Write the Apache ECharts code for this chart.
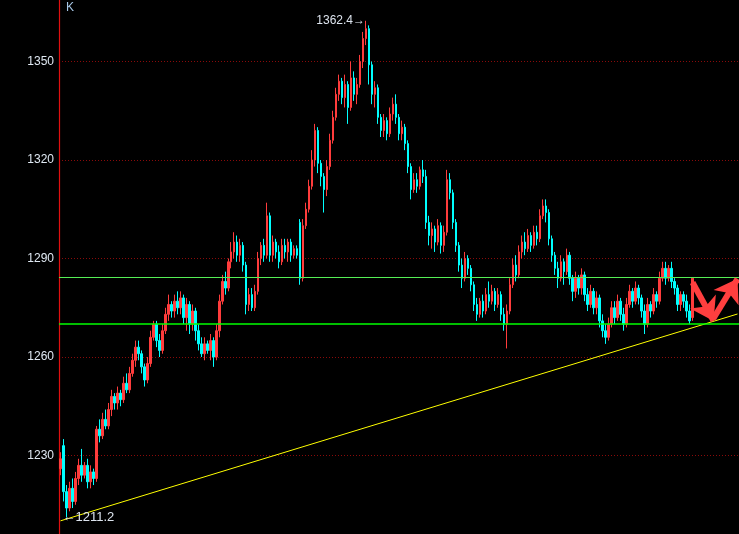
<!DOCTYPE html>
<html><head><meta charset="utf-8">
<script src="https://cdn.jsdelivr.net/npm/echarts@6/dist/echarts.min.js"></script>
<style>html,body{margin:0;padding:0;background:#000;overflow:hidden;width:739px;height:534px;}#c{position:absolute;left:0;top:-37px;width:739px;height:591px;}</style>
</head><body><div id="c"></div>
<script>
// [open, close, low, high]
const candles = [
[1226,1229,1224,1231],[1233,1219,1216,1235],[1219,1214,1211.2,1221],[1214,1220,1213,1222],[1220,1216,1214,1223],
[1216,1223,1215,1225],[1223,1227,1221,1229],[1227,1224,1222,1232],[1224,1227,1223,1228],[1227,1222,1220,1229],
[1222,1225,1220,1227],[1225,1223,1221,1226],[1223,1238,1222,1239],[1238,1236,1234,1241],[1236,1241,1235,1243],
[1241,1239,1238,1244],[1239,1244,1238,1246],[1244,1248,1242,1250],[1248,1246,1244,1249],[1246,1249,1244,1251],
[1249,1247,1245,1250],[1247,1252,1246,1254],[1252,1250,1249,1255],[1250,1255,1249,1257],[1255,1259,1254,1261],
[1259,1263,1257,1265],[1263,1261,1259,1265],[1261,1257,1255,1262],[1257,1253,1251,1258],[1253,1258,1252,1260],
[1258,1266,1257,1268],[1266,1270,1265,1271],[1270,1265,1263,1271],[1265,1262,1260,1267],[1262,1268,1261,1270],
[1268,1273,1267,1275],[1273,1276,1271,1279],[1276,1274,1272,1277],[1274,1277,1272,1279],[1277,1275,1273,1280],
[1275,1278,1273,1280],[1278,1272,1270,1279],[1272,1276,1268,1278],[1276,1270,1267,1277],[1270,1274,1268,1276],
[1274,1268,1265,1275],[1268,1264,1262,1270],[1264,1261,1260,1266],[1261,1264,1259,1266],[1264,1262,1261,1265],
[1262,1265,1259,1267],[1265,1260,1257,1266],[1260,1268,1259,1270],[1268,1277,1266,1279],[1277,1283,1276,1285],
[1283,1281,1279,1286],[1281,1289,1280,1290],[1289,1292,1287,1295],[1292,1295,1290,1298],[1295,1291,1289,1297],
[1291,1294,1289,1296],[1294,1288,1286,1295],[1288,1276,1273,1289],[1276,1279,1274,1281],[1279,1275,1274,1281],
[1275,1280,1274,1282],[1280,1290,1279,1292],[1290,1294,1288,1295],[1294,1291,1289,1296],[1291,1303,1290,1307],
[1303,1291,1289,1304],[1291,1295,1289,1297],[1295,1292,1290,1296],[1292,1289,1287,1294],[1289,1294,1288,1296],
[1294,1292,1290,1296],[1292,1295,1289,1296],[1295,1291,1289,1296],[1291,1293,1290,1294],[1293,1291,1290,1294],
[1301,1284,1282,1302],[1284,1300,1283,1302],[1300,1305,1299,1307],[1305,1312,1304,1314],[1312,1320,1311,1323],
[1320,1329,1318,1331],[1329,1319,1316,1330],[1319,1315,1312,1320],[1315,1311,1304,1316],[1311,1318,1309,1320],
[1318,1326,1317,1328],[1326,1333,1325,1335],[1333,1340,1332,1342],[1340,1344,1338,1346],[1344,1339,1337,1345],
[1339,1343,1336,1346],[1343,1336,1331,1344],[1336,1345,1335,1350],[1345,1340,1338,1347],[1340,1343,1337,1345],
[1343,1350,1342,1352],[1350,1357,1348,1359],[1357,1360,1355,1362.4],[1360,1349,1343,1361],[1349,1340,1337,1350],
[1340,1342,1336,1344],[1342,1333,1331,1343],[1333,1329,1327,1334],[1329,1332,1327,1334],[1332,1328,1326,1333],
[1328,1334,1327,1336],[1334,1337,1332,1339],[1337,1333,1331,1340],[1333,1328,1326,1334],[1328,1330,1326,1332],
[1330,1325,1323,1331],[1325,1318,1316,1326],[1318,1311,1308,1319],[1311,1314,1310,1316],[1314,1312,1310,1316],
[1312,1317,1311,1318],[1317,1315,1313,1320],[1315,1301,1299,1317],[1301,1297,1294,1303],[1297,1299,1293,1301],
[1299,1295,1292,1300],[1295,1300,1294,1302],[1300,1294,1291.5,1301],[1294,1298,1292,1300],[1298,1314,1297,1317],
[1314,1310,1308,1316],[1310,1301,1299,1311],[1301,1294,1292,1302],[1294,1288,1286,1295],[1288,1284,1281,1290],
[1284,1290,1283,1292],[1290,1287,1285,1291],[1287,1282,1280,1288],[1282,1276,1274,1283],[1276,1273,1271,1278],
[1273,1277,1272,1278],[1277,1274,1272,1279],[1274,1279,1273,1281],[1279,1277,1275,1283],[1277,1280,1276,1282],
[1280,1276,1274,1281],[1276,1279,1275,1281],[1279,1273,1271,1280],[1273,1270,1268,1275],[1270,1274,1262.6,1276],
[1274,1282,1273,1284],[1282,1288,1281,1290],[1288,1285,1283,1291],[1285,1292,1284,1294],[1292,1295,1290,1297],
[1295,1293,1291,1298],[1293,1297,1292,1299],[1297,1294,1292,1298],[1294,1298,1293,1300],[1298,1296,1294,1300],
[1296,1303,1295,1305],[1303,1306,1302,1308],[1306,1304,1301,1308],[1304,1296,1294,1305],[1296,1291,1289,1297],
[1291,1287,1285,1292],[1287,1284,1281,1289],[1284,1289,1283,1291],[1289,1286,1282,1290],[1286,1291,1285,1293],
[1291,1284,1282,1292],[1284,1280,1277,1285],[1280,1284,1278,1286],[1284,1281,1279,1285],[1281,1285,1279,1287],
[1285,1279,1277,1286],[1279,1276,1274,1281],[1276,1280,1275,1282],[1280,1275,1273,1281],[1275,1278,1273,1280],
[1278,1271,1269,1279],[1271,1268,1266,1273],[1268,1266,1264,1270],[1266,1270,1265,1272],[1270,1275,1269,1277],
[1275,1272,1270,1277],[1272,1277,1271,1279],[1277,1273,1271,1278],[1273,1270,1268,1275],[1270,1276,1269,1278],
[1276,1280,1275,1282],[1280,1277,1275,1281],[1277,1281,1276,1283],[1281,1278,1276,1282],[1278,1274,1272,1279],
[1274,1270,1267,1276],[1270,1276,1269,1278],[1276,1274,1272,1277],[1274,1279,1273,1281],[1279,1277,1275,1280],
[1277,1284,1276,1286],[1284,1287,1283,1289],[1287,1284,1282,1289],[1284,1287,1283,1288],[1287,1283,1281,1289],
[1283,1281,1279,1284],[1281,1276,1274,1282],[1276,1279,1274,1280],[1279,1277,1275,1280],[1277,1274,1272,1279],
[1274,1271,1270,1276],[1272,1284,1271,1284]
];
const totalSlots = 227;
const yTicks = [1230, 1260, 1290, 1320, 1350];
const upperLevel = 1284.2;
const lowerLevel = 1270;
const trendStart = 1210.1;
const trendEnd = 1273.1;
const highLabel = { idx: 102, value: 1362.4, text: '1362.4\u2192' };
const lowLabel = { idx: 2, value: 1211.2, text: '\u21901211.2' };
const arrowDown = [[211.2, 1282.7], [217.5, 1271.0]];
const arrowUp = [[217.6, 1271.8], [226.3, 1283.8]];

const cats = [];
for (let i = 0; i < totalSlots; i++) cats.push(String(i));
const kData = cats.map((c, i) => i < candles.length ? candles[i] : '-');
const trendData = cats.map((c, i) => i === 0 ? trendStart : (i === totalSlots - 1 ? trendEnd : null));

const chart = echarts.init(document.getElementById('c'), null, { renderer: 'canvas' });
chart.setOption({
  backgroundColor: '#000000',
  animation: false,
  title: { text: 'K', left: 61, top: 34, textStyle: { color: '#a8c8e8', fontSize: 12, fontWeight: 'normal', fontFamily: 'Liberation Sans' } },
  grid: { left: 59, right: 0, top: 0, bottom: 0 },
  xAxis: { type: 'category', data: cats, show: false, boundaryGap: true },
  yAxis: {
    type: 'value', min: 1200, max: 1380, interval: 30, position: 'left',
    axisLine: { show: true, onZero: false, lineStyle: { color: '#e01010', width: 1.2, opacity: 1 } },
    axisTick: { show: false },
    axisLabel: { color: '#dfe8f2', fontSize: 12, margin: 5, fontFamily: 'Liberation Sans',
      formatter: v => yTicks.indexOf(v) >= 0 ? String(v) : '' },
    splitLine: { show: true, lineStyle: { color: '#8a0a0a', type: [1, 2], width: 1 } }
  },
  series: [
    {
      type: 'candlestick', data: kData, barWidth: 2,
      itemStyle: { color: '#ff3c3c', color0: '#00ffff', borderColor: '#ff3c3c', borderColor0: '#00ffff', borderWidth: 1 },
      markLine: {
        silent: true, symbol: ['none', 'none'], label: { show: false }, animation: false,
        data: [
          { yAxis: upperLevel, lineStyle: { color: '#55ee55', width: 1, type: 'solid' } },
          { yAxis: lowerLevel, lineStyle: { color: '#00ff00', width: 1.5, type: 'solid' } },
          [{ coord: arrowDown[0], symbol: 'none' }, { coord: arrowDown[1], symbol: 'arrow', symbolSize: [22, 22], lineStyle: { color: '#ff3f3f', width: 6, type: 'solid' } }],
          [{ coord: arrowUp[0], symbol: 'none' }, { coord: arrowUp[1], symbol: 'arrow', symbolSize: [22, 22], lineStyle: { color: '#ff3f3f', width: 6, type: 'solid' } }]
        ]
      },
      markPoint: {
        silent: true, symbol: 'circle', symbolSize: 0,
        data: [
          { coord: [highLabel.idx, highLabel.value], label: { show: true, position: 'left', distance: 1, formatter: highLabel.text, color: '#dde4ee', fontSize: 12, fontFamily: 'Liberation Sans' } },
          { coord: [lowLabel.idx, lowLabel.value], label: { show: true, position: 'right', distance: -4, formatter: lowLabel.text, color: '#dde4ee', fontSize: 13, fontFamily: 'Liberation Sans' } }
        ]
      }
    },
    {
      type: 'line', data: trendData, connectNulls: true, symbol: 'none', silent: true,
      lineStyle: { color: '#ffff00', width: 1 }, z: 1
    }
  ]
});
</script></body></html>
